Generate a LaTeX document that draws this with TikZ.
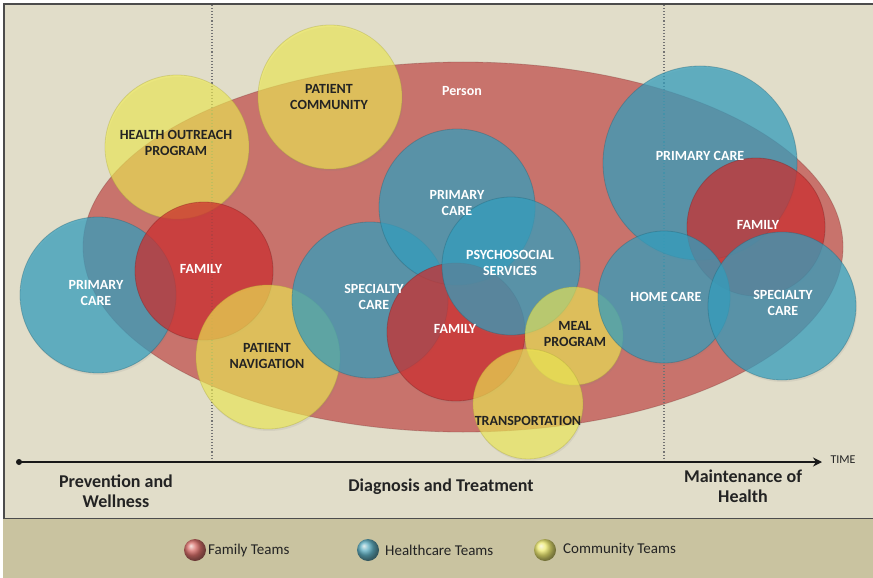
\documentclass[tikz,border=0pt]{standalone}
\usepackage{fontspec}
\setmainfont{Carlito}
\usetikzlibrary{arrows.meta,shapes.geometric,shadows}

\definecolor{panel}{RGB}{225,221,201}
\definecolor{band}{RGB}{201,195,160}
\definecolor{famc}{RGB}{205,45,45}
\definecolor{hcc}{RGB}{50,158,190}
\definecolor{comc}{RGB}{240,236,80}
\definecolor{personc}{RGB}{192,80,77}
\definecolor{ink}{RGB}{35,35,35}

\begin{document}
\begin{tikzpicture}[x=1pt,y=-1pt,
  team/.style={circle,inner sep=0pt,outer sep=0pt,minimum size=#1,
    drop shadow={opacity=0.12,shadow xshift=1pt,shadow yshift=-2pt}},
  fam/.style={team=#1,fill=famc,fill opacity=0.72,draw=famc!60!black,draw opacity=0.35,line width=0.8pt},
  hc/.style={team=#1,fill=hcc,fill opacity=0.72,draw=hcc!60!black,draw opacity=0.35,line width=0.8pt},
  com/.style={team=#1,fill=comc,fill opacity=0.62,draw=comc!70!black,draw opacity=0.35,line width=0.8pt},
  lbl/.style={font=\bfseries\fontsize{14}{16.5}\selectfont,align=center,text=white,inner sep=0pt},
  lbldark/.style={lbl,text=ink},
  phase/.style={font=\bfseries\fontsize{18}{20.5}\selectfont,align=center,text=ink,inner sep=0pt},
  legtext/.style={font=\fontsize{15}{17}\selectfont,text=ink,anchor=west,inner sep=0pt},
  divider/.style={dotted,line width=1.1pt,black!55},
]
\useasboundingbox (0,0) rectangle (873,578);
\fill[white] (0,0) rectangle (873,578);

% panel and legend band
\draw[fill=panel,draw=black!70,line width=1.2pt] (4,4) rectangle (890,519);
\fill[band] (3,519) rectangle (873,578);

% person ellipse
\node (person) [ellipse,inner sep=0pt,minimum width=760pt,minimum height=370pt,
  fill=personc,fill opacity=0.75,draw=personc!60!black,draw opacity=0.3,line width=0.8pt] at (463,247) {};

% phase dividers
\coordinate (d1top) at (212,5);
\coordinate (d1bot) at (212,462);
\coordinate (d2top) at (664,5);
\coordinate (d2bot) at (664,462);
\draw[divider] (d1top) -- (d1bot);
\draw[divider] (d2top) -- (d2bot);

% team circles
\node (outreach)  [com=144pt] at (177,147) {};
\node (community) [com=144pt] at (330,97)  {};
\node (pcL)       [hc=156pt]  at (98,295)  {};
\node (famL)      [fam=138pt] at (204,271) {};
\node (nav)       [com=144pt] at (268,357) {};
\node (specC)     [hc=156pt]  at (370,300) {};
\node (pcC)       [hc=156pt]  at (457,207) {};
\node (famC)      [fam=138pt] at (456,332) {};
\node (psych)     [hc=138pt]  at (511,266) {};
\node (meal)      [com=98pt]  at (574,336) {};
\node (transport) [com=110pt] at (528,404) {};
\node (pcR)       [hc=194pt]  at (700,163) {};
\node (famR)      [fam=138pt] at (756,227) {};
\node (home)      [hc=132pt]  at (664,297) {};
\node (specR)     [hc=148pt]  at (782,306) {};

% labels
\node (tperson)    [lbl] at (462,91)  {Person};
\node (toutreach)  [lbldark] at (176,143) {HEALTH OUTREACH\\PROGRAM};
\node (tcommunity) [lbldark] at (329,97)  {PATIENT\\COMMUNITY};
\node (tpcL)       [lbl] at (96,293)  {PRIMARY\\CARE};
\node (tfamL)      [lbl] at (201,269) {FAMILY};
\node (tnav)       [lbldark] at (267,356) {PATIENT\\NAVIGATION};
\node (tspecC)     [lbl] at (374,297) {SPECIALTY\\CARE};
\node (tpcC)       [lbl] at (457,203) {PRIMARY\\CARE};
\node (tfamC)      [lbl] at (455,329) {FAMILY};
\node (tpsych)     [lbl] at (510,263) {PSYCHOSOCIAL\\SERVICES};
\node (tmeal)      [lbldark] at (575,334) {MEAL\\PROGRAM};
\node (ttransport) [lbldark] at (528,421) {TRANSPORTATION};
\node (tpcR)       [lbl] at (700,156) {PRIMARY CARE};
\node (tfamR)      [lbl] at (758,225) {FAMILY};
\node (thome)      [lbl] at (666,297) {HOME CARE};
\node (tspecR)     [lbl] at (783,303) {SPECIALTY\\CARE};

% time axis
\coordinate (tstart) at (19,462);
\coordinate (tend) at (822,462);
\draw[line width=1.8pt,black!90,-{Stealth[length=9pt,width=9pt]}] (tstart) -- (tend);
\fill[black!90] (tstart) circle (3pt);
\node (time) [font=\fontsize{12}{14}\selectfont,text=ink,inner sep=0pt] at (843,460) {TIME};

% phases
\node (prev)  [phase] at (116,491) {Prevention and\\Wellness};
\node (diag)  [phase] at (441,487) {Diagnosis and Treatment};
\node (maint) [phase] at (743,486) {Maintenance of\\Health};

% legend
\shade[ball color=famc!75!white,opacity=0.9] (195,550) circle (11pt);
\node (lfam) [legtext] at (208,550) {Family Teams};
\shade[ball color=hcc!85!white,opacity=0.9] (368,550) circle (11pt);
\node (lhc) [legtext] at (385,550) {Healthcare Teams};
\shade[ball color=comc!85!white,opacity=0.9] (545,550) circle (11pt);
\node (lcom) [legtext] at (563,550) {Community Teams};
\end{tikzpicture}
\end{document}
